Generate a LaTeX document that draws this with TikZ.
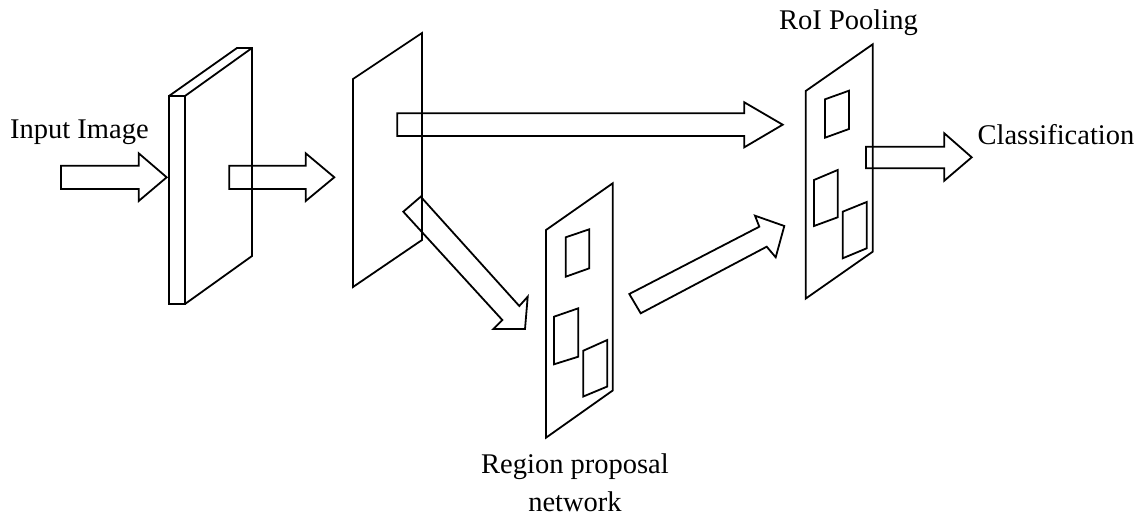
\documentclass[tikz,border=0pt]{standalone}
\usepackage{fontspec}
\setmainfont{Liberation Serif}
\begin{document}
\begin{tikzpicture}[x=1pt,y=-1pt,
  line width=1.8pt, line join=miter,
  plane/.style={draw},
  patch/.style={draw},
  blockarrow/.style={draw},
  lbl/.style={font=\fontsize{28.5}{37.7}\selectfont, inner sep=0pt}]
\useasboundingbox (0,0) rectangle (1142,518);

% input slab
\draw[plane] (169,96) rectangle (185,304);
\draw[plane] (169,96) -- (237,48) -- (252,48) -- (252,256) -- (185,304);
\draw[plane] (185,96) -- (252,48);

% feature map
\draw[plane] (353,79) -- (422,33) -- (422,240) -- (353,287) -- cycle;

% region proposal plane
\draw[plane] (546,230) -- (612.7,183.3) -- (612.7,390.5) -- (546,437.7) -- cycle;
\draw[patch] (565.7,237.3) -- (589.3,229.3) -- (589.3,268.3) -- (565.7,276.7) -- cycle;
\draw[patch] (554,316.7) -- (578.3,308.3) -- (578.3,356.7) -- (554,364.3) -- cycle;
\draw[patch] (583.3,350.7) -- (607.3,340) -- (607.3,386.5) -- (583.3,396.5) -- cycle;

% RoI pooling plane
\draw[plane] (805.7,91) -- (872.7,44.3) -- (872.7,251.7) -- (805.7,298.6) -- cycle;
\draw[patch] (825,99.3) -- (849,90.7) -- (849,129) -- (825,137.7) -- cycle;
\draw[patch] (814,180) -- (837.7,170) -- (837.7,217.3) -- (814,226) -- cycle;
\draw[patch] (842.7,211.7) -- (866.7,202) -- (866.7,248.3) -- (842.7,258.3) -- cycle;

% block arrows
\draw[blockarrow] (61,165.7) -- (138.7,165.7) -- (138.7,153.3) -- (166.7,177.3)
  -- (138.7,201) -- (138.7,189) -- (61,189) -- cycle;
\draw[blockarrow] (229.3,165.7) -- (305.7,165.7) -- (305.7,153.3) -- (334.3,177.3)
  -- (305.7,201) -- (305.7,189) -- (229.3,189) -- cycle;
\draw[blockarrow] (397.3,113.3) -- (744.3,113.3) -- (744.3,102.3) -- (782.7,124.7)
  -- (744.3,147.3) -- (744.3,136) -- (397.3,136) -- cycle;
\draw[blockarrow] (420.7,196.7) -- (519.3,306) -- (527.7,296.7) -- (525,329)
  -- (493.3,329) -- (502.3,320) -- (403.3,211.7) -- cycle;
\draw[blockarrow] (629.3,294) -- (759.3,226.7) -- (755,215.7) -- (784.3,226)
  -- (775.7,257.3) -- (766.7,246.7) -- (640.7,313.3) -- cycle;
\draw[blockarrow] (866,146.7) -- (944.3,146.7) -- (944.3,133.3) -- (971.7,157.3)
  -- (944.3,180.7) -- (944.3,168.3) -- (866,168.3) -- cycle;

% labels
\node[lbl, anchor=base west] (input) at (9.3,138.3) {Input Image};
\node[lbl, anchor=base west] (roi) at (778.3,30) {RoI Pooling};
\node[lbl, anchor=base west] (cls) at (976.7,145) {Classification};
\node[lbl, anchor=base, align=center] (rpn) at (575,511) {Region proposal\\network};
\end{tikzpicture}
\end{document}
